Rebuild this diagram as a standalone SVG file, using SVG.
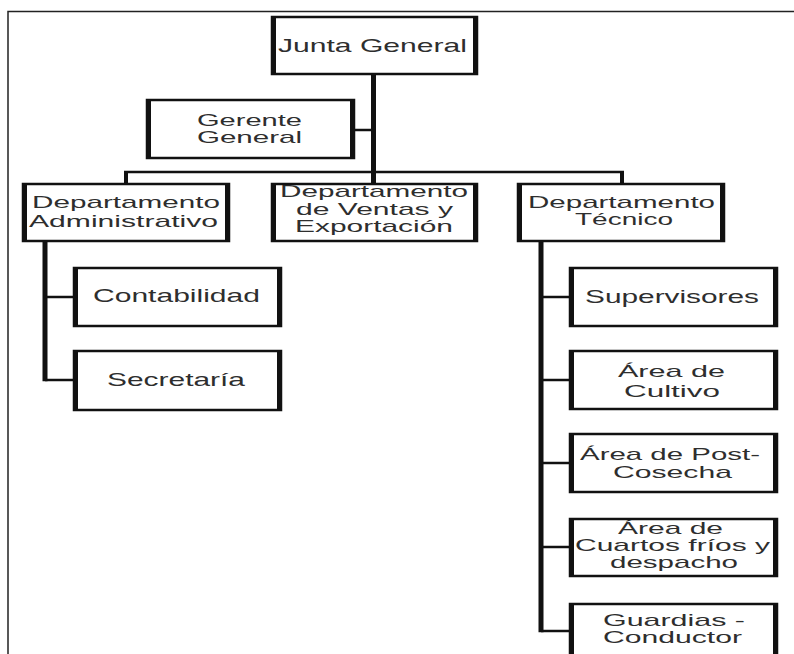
<svg xmlns="http://www.w3.org/2000/svg" width="794" height="654" viewBox="0 0 794 654">
  <style>
    .face { fill: #ffffff; }
    .edge { fill: none; stroke: #111111; stroke-width: 2.5; }
    .side { fill: none; stroke: #111111; stroke-width: 5; }
    .lbl { font-family: "Liberation Sans", Arial, sans-serif; font-size: 17px; fill: #2e2e2e; text-anchor: middle; }
    .big { font-size: 19px; }
    .vline { fill: none; stroke: #111111; stroke-width: 5; }
    .hline { fill: none; stroke: #111111; stroke-width: 2.5; }
    .frame { fill: none; stroke: #222222; stroke-width: 1.5; }
  </style>
  <rect x="0" y="0" width="794" height="654" fill="#ffffff"/>

  <!-- page frame -->
  <path class="frame" d="M8 654 V11.5 H794"/>

  <!-- connectors -->
  <g id="connectors">
    <line class="vline" x1="373.5" y1="75" x2="373.5" y2="183"/>
    <line class="hline" x1="355" y1="130" x2="373" y2="130"/>
    <line class="hline" x1="124" y1="172" x2="624" y2="172"/>
    <line class="vline" x1="126" y1="171" x2="126" y2="183" style="stroke-width:4"/>
    <line class="vline" x1="622" y1="171" x2="622" y2="183" style="stroke-width:4"/>
    <!-- administrative branch -->
    <line class="vline" x1="45" y1="242" x2="45" y2="381.2"/>
    <line class="hline" x1="45" y1="297" x2="73" y2="297"/>
    <line class="hline" x1="45" y1="380" x2="73" y2="380"/>
    <!-- technical branch -->
    <line class="vline" x1="541" y1="242" x2="541" y2="632.2"/>
    <line class="hline" x1="541" y1="297" x2="569" y2="297"/>
    <line class="hline" x1="541" y1="380" x2="569" y2="380"/>
    <line class="hline" x1="541" y1="463" x2="569" y2="463"/>
    <line class="hline" x1="541" y1="547" x2="569" y2="547"/>
    <line class="hline" x1="541" y1="631" x2="569" y2="631"/>
  </g>

  <g id="junta-general">
    <rect class="face" x="271" y="16" width="207" height="59"/>
    <text class="lbl big" x="372.5" y="52" textLength="189" lengthAdjust="spacingAndGlyphs">Junta General</text>
    <rect class="edge" x="272" y="17" width="205" height="57"/>
    <path class="side" d="M273.5 16 V75 M475.5 16 V75"/>
  </g>

  <g id="gerente-general">
    <rect class="face" x="146" y="99" width="209" height="60"/>
    <text class="lbl" x="249.5" y="126" textLength="105" lengthAdjust="spacingAndGlyphs">Gerente</text>
    <text class="lbl" x="249.5" y="143" textLength="105" lengthAdjust="spacingAndGlyphs">General</text>
    <rect class="edge" x="147" y="100" width="207" height="58"/>
    <path class="side" d="M148.5 99 V159 M352.5 99 V159"/>
  </g>

  <g id="dep-administrativo">
    <rect class="face" x="22" y="183" width="208" height="59"/>
    <text class="lbl" x="126" y="208" textLength="188" lengthAdjust="spacingAndGlyphs">Departamento</text>
    <text class="lbl" x="123.5" y="226.5" textLength="189" lengthAdjust="spacingAndGlyphs">Administrativo</text>
    <rect class="edge" x="23" y="184" width="206" height="57"/>
    <path class="side" d="M24.5 183 V242 M227.5 183 V242"/>
  </g>

  <g id="dep-ventas">
    <rect class="face" x="271" y="183" width="207" height="59"/>
    <text class="lbl" x="374" y="197" textLength="188" lengthAdjust="spacingAndGlyphs">Departamento</text>
    <text class="lbl" x="374.5" y="214.5" textLength="157" lengthAdjust="spacingAndGlyphs">de Ventas y</text>
    <text class="lbl" x="374" y="231.5" textLength="158" lengthAdjust="spacingAndGlyphs">Exportación</text>
    <rect class="edge" x="272" y="184" width="205" height="57"/>
    <path class="side" d="M273.5 183 V242 M475.5 183 V242"/>
  </g>

  <g id="dep-tecnico">
    <rect class="face" x="517" y="183" width="208" height="59"/>
    <text class="lbl" x="621.5" y="208" textLength="187" lengthAdjust="spacingAndGlyphs">Departamento</text>
    <text class="lbl" x="624" y="225" textLength="98" lengthAdjust="spacingAndGlyphs">Técnico</text>
    <rect class="edge" x="518" y="184" width="206" height="57"/>
    <path class="side" d="M519.5 183 V242 M722.5 183 V242"/>
  </g>

  <g id="contabilidad">
    <rect class="face" x="73" y="267" width="209" height="60"/>
    <text class="lbl big" x="176.5" y="302" textLength="167" lengthAdjust="spacingAndGlyphs">Contabilidad</text>
    <rect class="edge" x="74" y="268" width="207" height="58"/>
    <path class="side" d="M75.5 267 V327 M279.5 267 V327"/>
  </g>

  <g id="secretaria">
    <rect class="face" x="73" y="350" width="209" height="61"/>
    <text class="lbl big" x="176" y="386" textLength="138" lengthAdjust="spacingAndGlyphs">Secretaría</text>
    <rect class="edge" x="74" y="351" width="207" height="59"/>
    <path class="side" d="M75.5 350 V411 M279.5 350 V411"/>
  </g>

  <g id="supervisores">
    <rect class="face" x="569" y="267" width="209" height="60"/>
    <text class="lbl big" x="672" y="303" textLength="174" lengthAdjust="spacingAndGlyphs">Supervisores</text>
    <rect class="edge" x="570" y="268" width="207" height="58"/>
    <path class="side" d="M571.5 267 V327 M775.5 267 V327"/>
  </g>

  <g id="area-cultivo">
    <rect class="face" x="569" y="350" width="209" height="60"/>
    <text class="lbl" x="671.5" y="377" textLength="107" lengthAdjust="spacingAndGlyphs">Área de</text>
    <text class="lbl" x="672" y="397" textLength="96" lengthAdjust="spacingAndGlyphs">Cultivo</text>
    <rect class="edge" x="570" y="351" width="207" height="58"/>
    <path class="side" d="M571.5 350 V410 M775.5 350 V410"/>
  </g>

  <g id="area-postcosecha">
    <rect class="face" x="569" y="433" width="209" height="60"/>
    <text class="lbl" x="670" y="460" textLength="180" lengthAdjust="spacingAndGlyphs">Área de Post-</text>
    <text class="lbl" x="672.5" y="478" textLength="119" lengthAdjust="spacingAndGlyphs">Cosecha</text>
    <rect class="edge" x="570" y="434" width="207" height="58"/>
    <path class="side" d="M571.5 433 V493 M775.5 433 V493"/>
  </g>

  <g id="area-cuartos-frios">
    <rect class="face" x="569" y="518" width="209" height="59"/>
    <text class="lbl" x="670.5" y="533.5" textLength="105" lengthAdjust="spacingAndGlyphs">Área de</text>
    <text class="lbl" x="672.5" y="551" textLength="195" lengthAdjust="spacingAndGlyphs">Cuartos fríos y</text>
    <text class="lbl" x="674" y="568" textLength="128" lengthAdjust="spacingAndGlyphs">despacho</text>
    <rect class="edge" x="570" y="519" width="207" height="57"/>
    <path class="side" d="M571.5 518 V577 M775.5 518 V577"/>
  </g>

  <g id="guardias-conductor">
    <rect class="face" x="569" y="603" width="209" height="60"/>
    <text class="lbl" x="674" y="625.5" textLength="142" lengthAdjust="spacingAndGlyphs">Guardias -</text>
    <text class="lbl" x="672.5" y="643" textLength="139" lengthAdjust="spacingAndGlyphs">Conductor</text>
    <rect class="edge" x="570" y="604" width="207" height="58"/>
    <path class="side" d="M571.5 603 V663 M775.5 603 V663"/>
  </g>
</svg>
